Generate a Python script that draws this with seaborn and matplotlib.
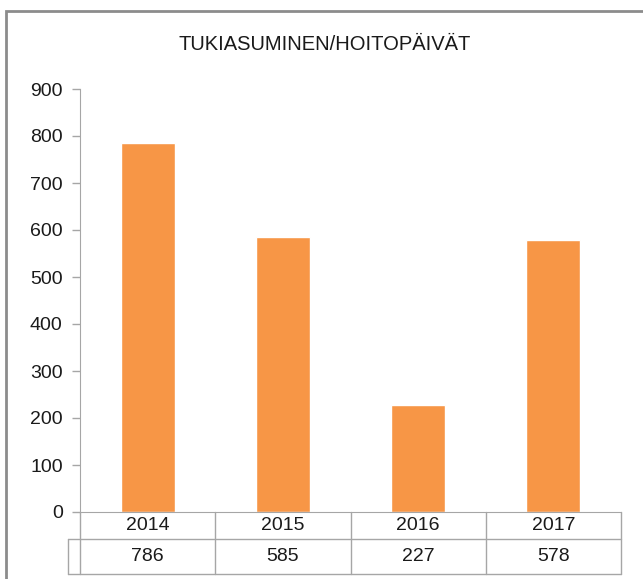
import matplotlib
matplotlib.use("Agg")
import matplotlib.pyplot as plt
import seaborn as sns
from matplotlib.patches import Rectangle

years = ["2014", "2015", "2016", "2017"]
values = [786, 585, 227, 578]
title = "TUKIASUMINEN/HOITOPÄIVÄT"

sns.set_style("white")
plt.rcParams["font.family"] = ["Liberation Sans", "DejaVu Sans"]

W, H = 643, 579
fig = plt.figure(figsize=(W / 100, H / 100), dpi=100)
ax = fig.add_axes([80 / W, 1 - 512 / H, (621 - 80) / W, (512 - 89) / H])

sns.barplot(x=years, y=values, color="#F79646", saturation=1, width=0.4, ax=ax)

line_c = "#A6A6A6"
txt_c = "#1a1a1a"
ax.set_ylim(0, 900)
ax.set_xlim(-0.5, 3.5)
ax.set_yticks(range(0, 901, 100))
ax.tick_params(axis="y", length=6, width=1, color=line_c, pad=6.5, labelsize=14,
               left=True, labelcolor=txt_c)
ax.set_xticks([])
ax.set_xlabel("")
ax.set_ylabel("")
for s in ["top", "right"]:
    ax.spines[s].set_visible(False)
ax.spines["left"].set_color(line_c)
ax.spines["bottom"].set_color(line_c)

# data table under the axis
tr = ax.get_xaxis_transform()
r1 = -27 / 423
r2 = -62 / 423
key = -0.5 - 12 / 135
kw = dict(color=line_c, lw=1, transform=tr, clip_on=False)
ax.plot([key, 3.5], [r1, r1], **kw)
ax.plot([key, 3.5], [r2, r2], **kw)
ax.plot([key, key], [r1, r2], **kw)
for xb in [-0.5, 0.5, 1.5, 2.5, 3.5]:
    ax.plot([xb, xb], [0, r2], **kw)
for i, (yr, v) in enumerate(zip(years, values)):
    ax.text(i, r1 / 2, yr, ha="center", va="center", fontsize=14,
            color=txt_c, transform=tr)
    ax.text(i, (r1 + r2) / 2, str(v), ha="center", va="center", fontsize=14,
            color=txt_c, transform=tr)

fig.text(325 / W, 1 - 45 / H, title, ha="center", va="center", fontsize=14.5,
         color=txt_c)

fig.patches.append(Rectangle((6 / W, -0.1), 2, 1 - 11 / H + 0.1,
                             transform=fig.transFigure, fill=False,
                             edgecolor="#8C8C8C", lw=2))

fig.savefig("out.png", dpi=100)
